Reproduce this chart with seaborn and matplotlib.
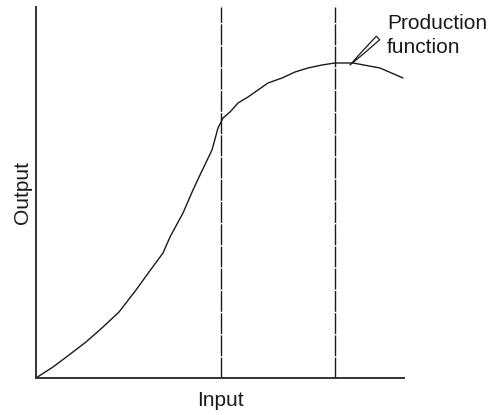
import numpy as np
import pandas as pd
import matplotlib
matplotlib.use("Agg")
import matplotlib.pyplot as plt
import seaborn as sns

# curve (arbitrary units)
input_vals = [0, 17, 33, 50, 67, 83, 100, 113, 127, 134, 147, 157, 164, 176,
              182, 187, 194, 202, 212, 222, 232, 246, 259, 272, 286, 299, 317,
              344, 367]
output_vals = [0, 11, 23, 36, 51, 66, 88, 106, 125, 141, 165, 188, 203, 228,
               250, 260, 266, 275, 281, 288, 295, 300, 306, 310, 313, 315, 315,
               310, 300]

# stage boundaries
stage_lines = [185, 299]

# annotation
label_text = "Production\nfunction"
label_xy = (351, 364)
arrow_tip = (314, 313)
arrow_tail = (342, 340)

x_max = 368
y_max = 371

sns.set_style("white")
plt.rcParams["font.family"] = ["Liberation Sans", "DejaVu Sans"]

df = pd.DataFrame({"Input": input_vals, "Output": output_vals})

fig = plt.figure(figsize=(4.98, 4.15), dpi=100)
ax = fig.add_axes([36 / 498, 37 / 415, 368 / 498, 371 / 415])

sns.lineplot(data=df, x="Input", y="Output", ax=ax, color="#1a1a1a",
             linewidth=1.0, sort=False)

for xv in stage_lines:
    ax.axvline(xv, color="#1a1a1a", linewidth=1.0, linestyle=(0, (15, 1.0)))

ax.text(label_xy[0], label_xy[1], label_text, fontsize=15, ha="left",
        va="top", color="#1a1a1a", linespacing=1.3, clip_on=False)
ax.annotate("", xy=arrow_tip, xytext=arrow_tail, annotation_clip=False,
            arrowprops=dict(arrowstyle="wedge,tail_width=0.35,shrink_factor=0.6",
                            fc="white", ec="#1a1a1a", lw=0.9,
                            shrinkA=0, shrinkB=0))

ax.set_xlim(0, x_max)
ax.set_ylim(0, y_max)
ax.set_xticks([])
ax.set_yticks([])
ax.set_xlabel("Input", fontsize=15, color="#1a1a1a", labelpad=9)
ax.set_ylabel("Output", fontsize=15, color="#1a1a1a", labelpad=3)

for side in ["top", "right"]:
    ax.spines[side].set_visible(False)
for side in ["left", "bottom"]:
    ax.spines[side].set_color("#333333")
    ax.spines[side].set_linewidth(1.4)

fig.savefig("out.png", dpi=100)
